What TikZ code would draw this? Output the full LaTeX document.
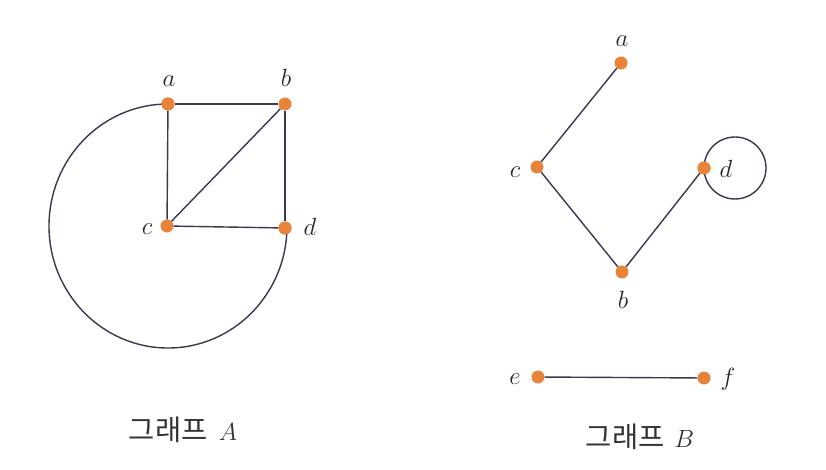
\documentclass[tikz,border=0pt]{standalone}
\usepackage{fontspec}
\newfontfamily\kr{Noto Sans CJK KR}
\definecolor{dotc}{HTML}{E8843A}
\definecolor{edgec}{HTML}{383850}
\begin{document}
\begin{tikzpicture}[x=1pt,y=-1pt,
  vtx/.style={circle,fill=dotc,inner sep=0pt,minimum size=13pt},
  edge/.style={draw=edgec,line width=1.4pt},
  lbl/.style={inner sep=0pt,anchor=base,font=\fontsize{28}{30}\selectfont,text=black!85},
  captxt/.style={inner sep=0pt,font=\fontsize{28.5}{32}\selectfont,text=black!80}]
\useasboundingbox (0,0) rectangle (826,470);
% Graph A
\node[vtx] (a) at (168,104) {};
\node[vtx] (b) at (285,104) {};
\node[vtx] (c) at (167,226) {};
\node[vtx] (d) at (285,228) {};
\draw[edge] (a) -- (b);
\draw[edge] (a) -- (c);
\draw[edge] (b) -- (c);
\draw[edge] (b) -- (d);
\draw[edge] (c) -- (d);
\draw[edge] (a.center) arc[start angle=90,end angle=360,x radius=119,y radius=-122];
\node[vtx] at (a) {};
\node[vtx] at (d) {};
\node[lbl] (la) at (169,87) {$a$};
\node[lbl] (lb) at (286,87) {$b$};
\node[lbl] (lc) at (147,234) {$c$};
\node[lbl] (ld) at (310,235) {$d$};
\node[captxt] (capA) at (183,430) {\kr 그래프\hspace{0.4em}\rmfamily$A$};
% Graph B
\node[vtx] (a2) at (621,63) {};
\node[vtx] (c2) at (537,167) {};
\node[vtx] (d2) at (704,168) {};
\node[vtx] (b2) at (622,272) {};
\node[vtx] (e2) at (538,377) {};
\node[vtx] (f2) at (704,378) {};
\draw[edge] (a2) -- (c2);
\draw[edge] (c2) -- (b2);
\draw[edge] (b2) -- (d2);
\draw[edge] (e2) -- (f2);
\draw[edge] ([xshift=31pt]d2.center) circle[radius=31pt];
\node[vtx] at (d2) {};
\node[lbl] (la2) at (622,47) {$a$};
\node[lbl] (lc2) at (515,178) {$c$};
\node[lbl] (ld2) at (726,178) {$d$};
\node[lbl] (lb2) at (623,308) {$b$};
\node[lbl] (le2) at (515,384) {$e$};
\node[lbl] (lf2) at (728,385) {$f$};
\node[captxt] (capB) at (640,437) {\kr 그래프\hspace{0.35em}\rmfamily$B$};
\end{tikzpicture}
\end{document}
